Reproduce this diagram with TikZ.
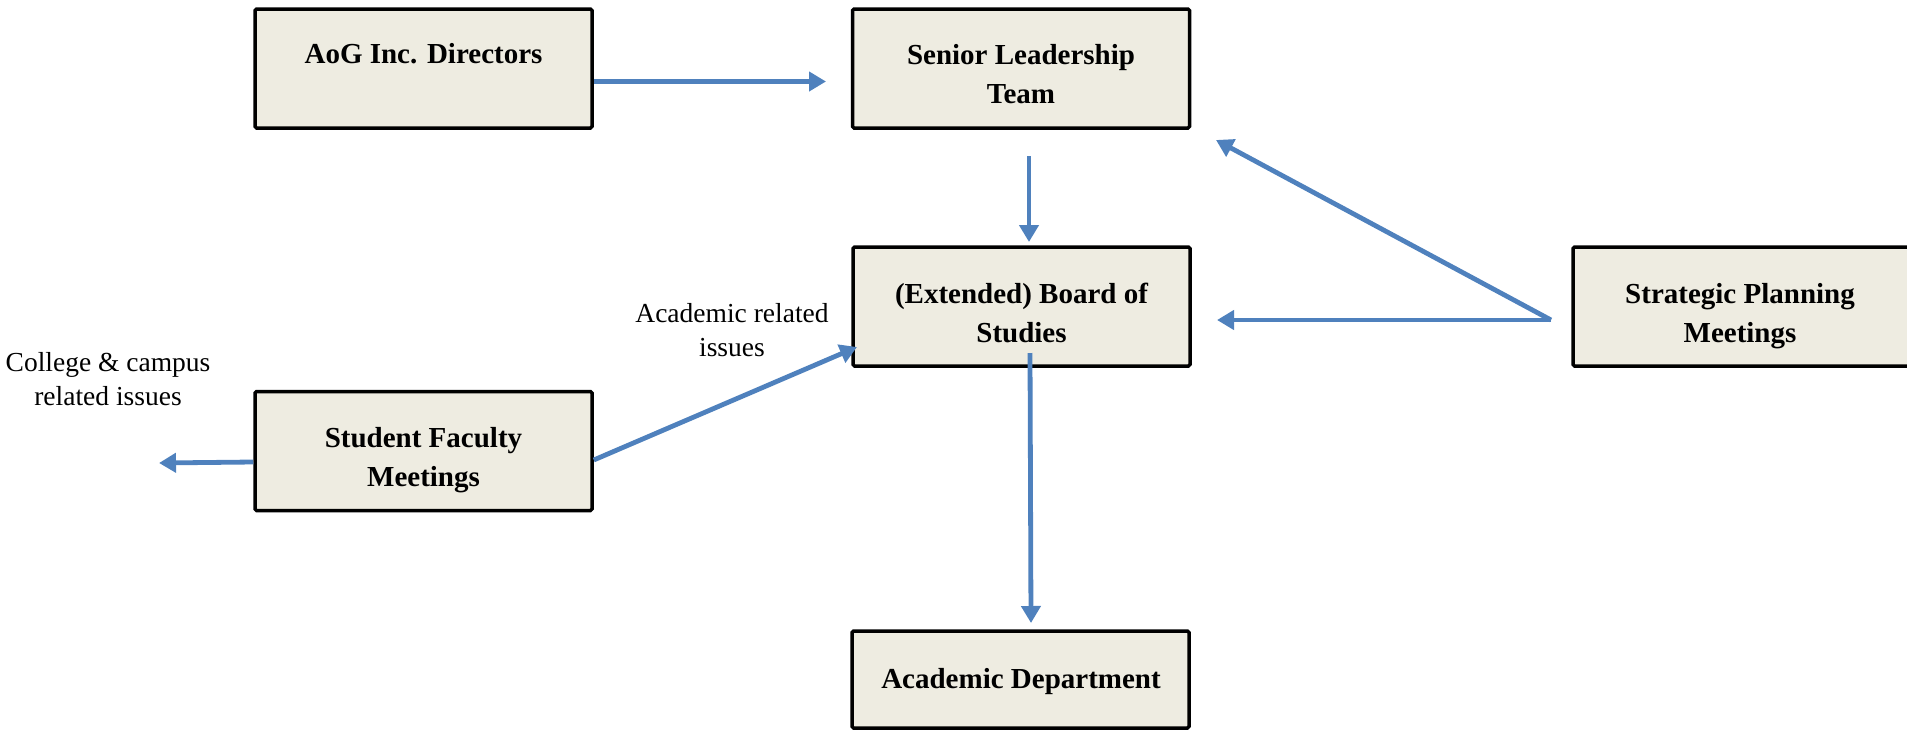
\documentclass[tikz,border=0pt]{standalone}
\usepackage{fontspec}
\setmainfont{Liberation Serif}
\usetikzlibrary{arrows.meta}
\definecolor{boxfill}{HTML}{EEECE1}
\definecolor{arrowblue}{HTML}{4F81BD}
\begin{document}
\begin{tikzpicture}[x=1pt,y=-1pt,
  box/.style={draw=black, line width=3.5pt, fill=boxfill, rounded corners=1.5pt,
              minimum width=337pt, minimum height=119pt, inner sep=0pt},
  boxtext/.style={font=\fontsize{29}{39}\selectfont\bfseries, align=center, inner sep=0pt},
  lab/.style={font=\fontsize{27.5}{34}\selectfont, align=center, inner sep=0pt},
  conn/.style={draw=arrowblue, line width=4.8pt, -{Triangle[length=17pt,width=19pt]}}]
\useasboundingbox (0,0) rectangle (1907,729);

% boxes
\node[box] (aog) at (423.5,68.5) {};
\node[box] (senior) at (1021,68.5) {};
\node[box] (board) at (1021.5,306.5) {};
\node[box, minimum width=342pt] (strat) at (1744,306.5) {};
\node[box] (student) at (423.5,451) {};
\node[box, minimum height=97pt] (acad) at (1020.5,679.5) {};

% box texts
\node[boxtext] (aogT) at (423.5,53.5) {AoG Inc. Directors};
\node[boxtext] (seniorT) at (1021,74.5) {Senior Leadership\\Team};
\node[boxtext] (boardT) at (1021.5,312.5) {(Extended) Board of\\Studies};
\node[boxtext] (stratT) at (1740,316.5) {Strategic Planning\\Meetings};
\node[boxtext] (studentT) at (423.5,460) {Student Faculty\\Meetings};
\node[boxtext] (acadT) at (1021,682) {Academic Department};

% labels
\node[lab] (labAcad) at (732,330) {Academic related\\issues};
\node[lab] (labColl) at (108,379) {College \& campus\\related issues};

% connector end points
\coordinate (p1) at (aog.east |- 0,81.5);
\coordinate (p1e) at (826,81.5);
\coordinate (p2) at (1029,156);
\coordinate (p2e) at (1029,242);
\coordinate (p3) at (1551,320);
\coordinate (p3a) at (1216,140);
\coordinate (p3b) at (1217,320);
\coordinate (p4) at (student.east |- 0,460);
\coordinate (p4e) at (857,347);
\coordinate (p5) at (student.west |- 0,462);
\coordinate (p5e) at (159,463);
\coordinate (p6) at (1030,353);
\coordinate (p6e) at (1031,623);

% connectors
\draw[conn] (p1) -- (p1e);
\draw[conn] (p2) -- (p2e);
\draw[conn] (p3) -- (p3a);
\draw[conn] (p3) -- (p3b);
\draw[conn] (p4) -- (p4e);
\draw[conn] (p5) -- (p5e);
\draw[conn] (p6) -- (p6e);
\end{tikzpicture}
\end{document}
